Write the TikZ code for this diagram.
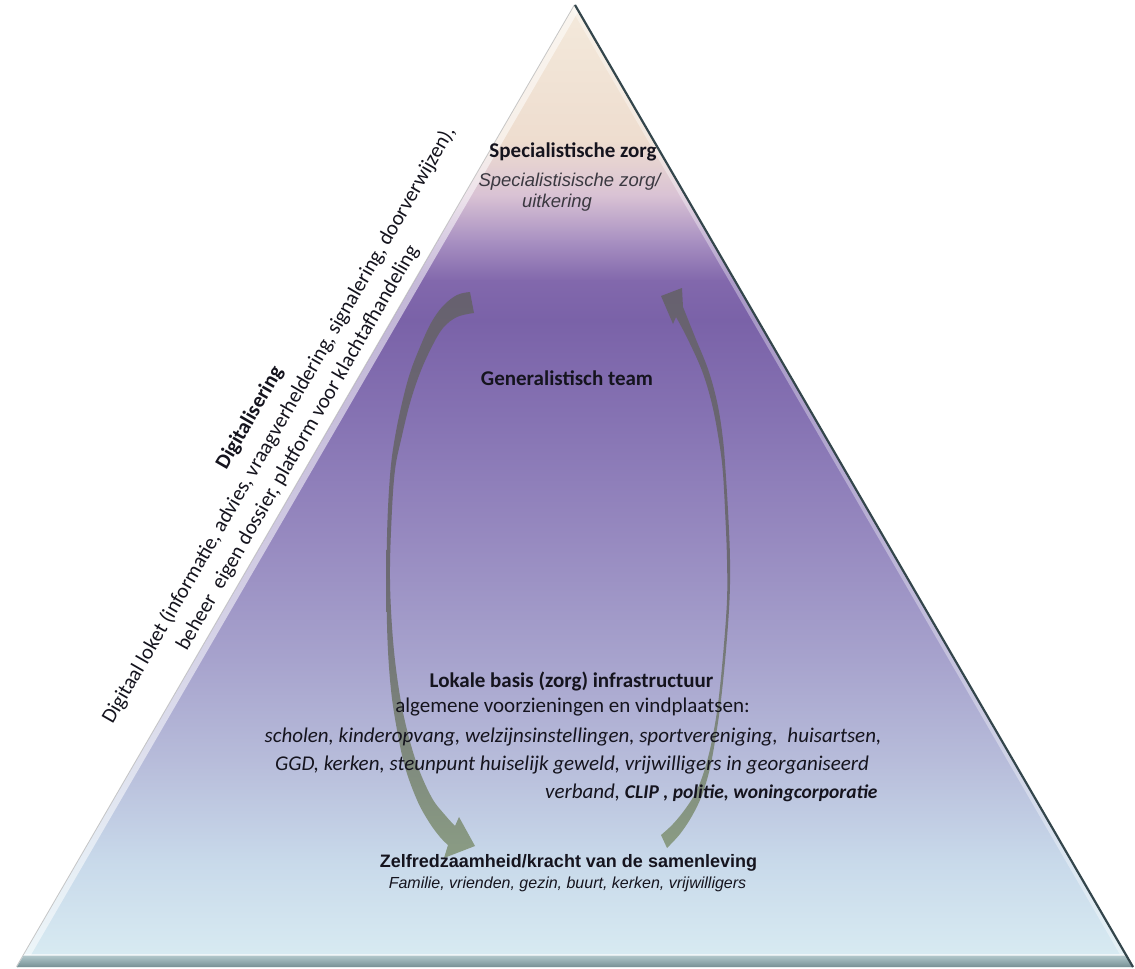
\documentclass[tikz,border=0pt]{standalone}
\usepackage{fontspec}
\setmainfont{Carlito}
\newfontfamily\arialfont{Liberation Sans}
\definecolor{c0}{HTML}{F4EADC}
\definecolor{c1}{HTML}{EEDDCF}
\definecolor{c2}{HTML}{D9C2D4}
\definecolor{c3}{HTML}{A991C2}
\definecolor{c4}{HTML}{8268AC}
\definecolor{c5}{HTML}{7A62A8}
\definecolor{c6}{HTML}{8673B3}
\definecolor{c7}{HTML}{978AC0}
\definecolor{c8}{HTML}{A7A3CD}
\definecolor{c9}{HTML}{B7BCDA}
\definecolor{c10}{HTML}{C8D9EA}
\definecolor{c11}{HTML}{DAEDF3}
\definecolor{txt}{HTML}{15141E}
\definecolor{subtxt}{HTML}{3A3840}
\definecolor{arrgray}{HTML}{67616F}
\definecolor{arrgreen}{HTML}{8A9C84}
\definecolor{edgedark}{HTML}{34464C}
\definecolor{basetop}{HTML}{B4CACE}
\definecolor{basebot}{HTML}{6C878B}
\begin{document}
\begin{tikzpicture}[x=1pt,y=-1pt,
  calib/.style={font=\fontsize{21}{25}\selectfont, text=txt, inner sep=0pt},
  calibb/.style={font=\bfseries\fontsize{21}{25}\selectfont, text=txt, inner sep=0pt},
  calibi/.style={font=\itshape\fontsize{21}{25}\selectfont, text=txt, inner sep=0pt},
  arialb/.style={font=\arialfont\bfseries\fontsize{18}{21}\selectfont, text=txt, inner sep=0pt},
  ariali/.style={font=\arialfont\itshape\fontsize{16}{19}\selectfont, text=txt, inner sep=0pt},
  arialsub/.style={font=\arialfont\itshape\fontsize{18.5}{21}\selectfont, text=subtxt, inner sep=0pt},
  sidetext/.style={rotate=60, inner sep=0pt, text=txt}]
\useasboundingbox (0,0) rectangle (1135,969);
\fill[white] (0,0) rectangle (1135,969);

% pyramid
\coordinate (apex) at (575,5);
\coordinate (bl) at (17,967);
\coordinate (br) at (1133,967);
\draw[gray!45, line width=2pt] (apex) -- (bl);
\begin{scope}
  \clip (apex) -- (br) -- (bl) -- cycle;
  \foreach \ya/\ca/\yb/\cb in {0/c0/140/c1, 140/c1/195/c2, 195/c2/240/c3, 240/c3/280/c4, 280/c4/320/c5, 320/c5/420/c6, 420/c6/540/c7, 540/c7/660/c8, 660/c8/760/c9, 760/c9/860/c10, 860/c10/969/c11}
    \shade[top color=\ca, bottom color=\cb] (0,\ya) rectangle (1135,\yb+0.8);
  \draw[white, opacity=0.55, line width=12pt] (apex) -- (bl);
  \draw[white, opacity=0.35, line width=10pt] (apex) -- (br);
  \shade[top color=basetop, bottom color=basebot] (0,955) rectangle (1135,969);
  \draw[white, opacity=0.6, line width=1.2pt] (0,955) -- (1135,955);
\end{scope}
\draw[edgedark, line width=2.2pt] (apex) -- (br);

% curved arrows
\coordinate (la1) at (472,302);
\coordinate (la2) at (475,846);
\shade[top color=arrgray, bottom color=arrgreen, middle color=arrgray!85!arrgreen]
  plot[smooth, tension=0.6] coordinates {(470,292) (457,295) (443,306) (431,323) (420,347) (410,373) (402,403) (395,437) (390.5,470) (387.5,520) (386.5,580) (387.5,640) (391,690) (397,730) (405,767) (417,800) (429,822) (440,837) (448,845)}
  -- (444,858) -- (la2) -- (459,817) -- (455,826)
  -- plot[smooth, tension=0.6] coordinates {(455,826) (445,815) (432,798) (418,767) (407,730) (399,690) (393,640) (390,580) (391.5,520) (395,470) (401.7,437) (410,403) (420,373) (431.7,347) (443,328) (457,317) (474,313)}
  -- cycle;
\coordinate (ra1) at (661,296);
\coordinate (ra2) at (667,842);
\shade[top color=arrgray, bottom color=arrgreen, middle color=arrgray!85!arrgreen]
  plot[smooth, tension=0.6] coordinates {(667,848) (680,834) (692,816) (702,795) (710,768) (716,735) (721,700) (726,650) (729.5,600) (730,560) (728.5,520) (725.5,470) (722.7,437) (717.3,403) (708.3,370) (695,337) (683,307)}
  -- (682,288) -- (ra1) -- (673,324) -- (676,317)
  -- plot[smooth, tension=0.6] coordinates {(676,317) (686.7,337) (701.7,370) (711.7,403) (718.3,437) (722.7,470) (725.5,520) (727,560) (727,600) (723.5,650) (718.5,700) (713,735) (706,765) (697,790) (686,808) (673,824) (661,835)}
  -- cycle;

% texts
\node[calibb] (spec) at (573,152) {Specialistische zorg};
\node[arialsub] (spec2) at (569.5,182) {Specialistisische zorg/};
\node[arialsub] (spec3) at (557,203) {uitkering};
\node[calibb] (gen) at (567,378) {Generalistisch team};
\node[calibb] (lok) at (571.5,681) {Lokale basis (zorg) infrastructuur};
\node[calib] (alg) at (572.5,707) {algemene voorzieningen en vindplaatsen:};
\node[calibi] (sch) at (573,737) {scholen, kinderopvang, welzijnsinstellingen, sportvereniging,\ \ huisartsen,};
\node[calibi] (ggd) at (572,765) {GGD, kerken, steunpunt huiselijk geweld, vrijwilligers in georganiseerd};
\node[calibi, anchor=west] (ver) at (545,793) {verband, {\bfseries\fontsize{19.5}{22}\selectfont CLIP , politie, woningcorporatie}};
\node[arialb] (zelf) at (568.5,863) {Zelfredzaamheid/kracht van de samenleving};
\node[ariali] (fam) at (567.5,884) {Familie, vrienden, gezin, buurt, kerken, vrijwilligers};

\node[sidetext, font=\bfseries\fontsize{21}{25}\selectfont] (dig) at (250,418) {Digitalisering};
\node[sidetext, font=\fontsize{21}{25}\selectfont] (dig2) at (279,425) {Digitaal loket (informatie, advies, vraagverheldering, signalering, doorverwijzen),};
\node[sidetext, font=\fontsize{21}{25}\selectfont] (dig3) at (298,448) {beheer\ \ eigen dossier, platform voor klachtafhandeling};
\end{tikzpicture}
\end{document}
